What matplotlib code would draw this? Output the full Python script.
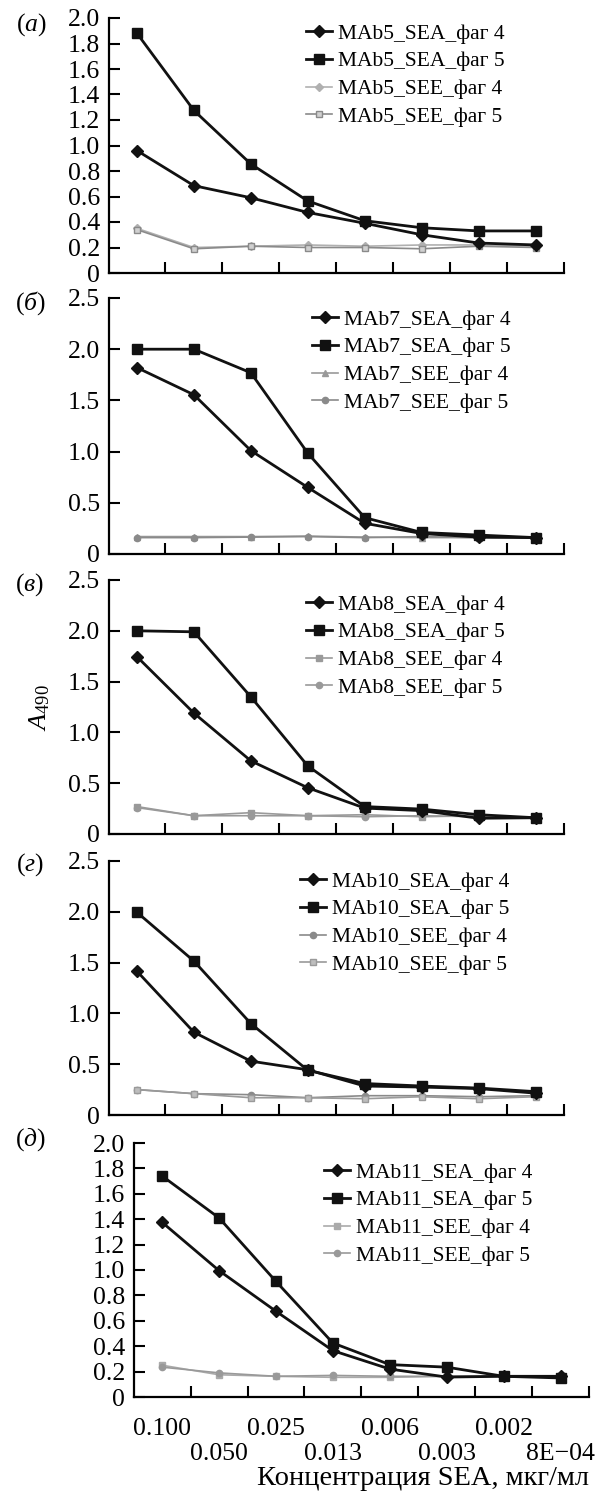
import matplotlib
matplotlib.use("Agg")
import matplotlib.pyplot as plt
from matplotlib.ticker import FixedLocator

plt.rcParams['font.family'] = ['Liberation Serif', 'DejaVu Serif']
plt.rcParams['mathtext.fontset'] = 'custom'
plt.rcParams['mathtext.rm'] = 'Liberation Serif'
plt.rcParams['mathtext.it'] = 'Liberation Serif:italic'

# ---------------- data ----------------
conc_labels = ['0.100', '0.050', '0.025', '0.013', '0.006', '0.003', '0.002', '8E\u221204']

mab5_sea4 = [0.96, 0.685, 0.59, 0.475, 0.39, 0.30, 0.235, 0.22]
mab5_sea5 = [1.88, 1.275, 0.855, 0.565, 0.41, 0.355, 0.33, 0.33]
mab5_see4 = [0.35, 0.20, 0.21, 0.22, 0.21, 0.22, 0.22, 0.21]
mab5_see5 = [0.34, 0.19, 0.21, 0.20, 0.20, 0.19, 0.21, 0.20]

mab7_sea4 = [1.82, 1.555, 1.01, 0.65, 0.30, 0.20, 0.165, 0.16]
mab7_sea5 = [2.0, 2.0, 1.77, 0.985, 0.355, 0.21, 0.185, 0.16]
mab7_see4 = [0.17, 0.17, 0.17, 0.175, 0.165, 0.16, 0.16, 0.16]
mab7_see5 = [0.16, 0.16, 0.165, 0.17, 0.16, 0.17, 0.16, 0.16]

mab8_sea4 = [1.745, 1.19, 0.72, 0.455, 0.255, 0.23, 0.155, 0.16]
mab8_sea5 = [2.0, 1.99, 1.35, 0.67, 0.27, 0.245, 0.19, 0.16]
mab8_see4 = [0.27, 0.18, 0.21, 0.18, 0.19, 0.17, 0.18, 0.16]
mab8_see5 = [0.26, 0.18, 0.18, 0.18, 0.17, 0.18, 0.17, 0.16]

mab10_sea4 = [1.415, 0.815, 0.53, 0.445, 0.285, 0.275, 0.26, 0.215]
mab10_sea5 = [1.995, 1.515, 0.90, 0.44, 0.31, 0.285, 0.265, 0.23]
mab10_see4 = [0.25, 0.21, 0.20, 0.17, 0.19, 0.19, 0.18, 0.19]
mab10_see5 = [0.25, 0.21, 0.17, 0.17, 0.16, 0.18, 0.16, 0.18]

mab11_sea4 = [1.375, 0.995, 0.675, 0.365, 0.22, 0.157, 0.163, 0.163]
mab11_sea5 = [1.74, 1.41, 0.91, 0.425, 0.255, 0.235, 0.163, 0.15]
mab11_see4 = [0.25, 0.175, 0.163, 0.155, 0.155, 0.163, 0.163, 0.155]
mab11_see5 = [0.235, 0.19, 0.163, 0.17, 0.163, 0.163, 0.163, 0.163]

panels = [
    dict(mab='5', tag='\u0430', sea4=mab5_sea4, sea5=mab5_sea5, see4=mab5_see4, see5=mab5_see5,
         ymax=2.0, ystep=0.2, m4='D', m5='s', c4='#b0b0b0', c5='#8a8a8a', f5='#d0d0d0'),
    dict(mab='7', tag='\u0431', sea4=mab7_sea4, sea5=mab7_sea5, see4=mab7_see4, see5=mab7_see5,
         ymax=2.5, ystep=0.5, m4='^', m5='o', c4='#999999', c5='#8a8a8a', f5='#8a8a8a'),
    dict(mab='8', tag='\u0432', sea4=mab8_sea4, sea5=mab8_sea5, see4=mab8_see4, see5=mab8_see5,
         ymax=2.5, ystep=0.5, m4='s', m5='o', c4='#9a9a9a', c5='#999999', f5='#999999'),
    dict(mab='10', tag='\u0433', sea4=mab10_sea4, sea5=mab10_sea5, see4=mab10_see4, see5=mab10_see5,
         ymax=2.5, ystep=0.5, m4='o', m5='s', c4='#8a8a8a', c5='#9a9a9a', f5='#bdbdbd'),
    dict(mab='11', tag='\u0434', sea4=mab11_sea4, sea5=mab11_sea5, see4=mab11_see4, see5=mab11_see5,
         ymax=2.0, ystep=0.2, m4='s', m5='o', c4='#aaaaaa', c5='#999999', f5='#999999'),
]

# ---------------- layout (pixels) ----------------
W, H = 604, 1493
rects = [(108.5, 564, 18, 273), (108.5, 564, 298, 554), (108.5, 564, 580, 834),
         (108.5, 564, 861, 1115), (133.7, 589, 1143, 1397)]
leg_pos = [(306, 32), (312, 318), (306, 603), (300, 880), (324, 1171)]
tag_pos = [(31, 25), (30, 303), (30, 585), (30, 865), (30, 1140)]

fig = plt.figure(figsize=(W / 100, H / 100), dpi=100)
x = list(range(len(conc_labels)))
TICKFS = 18.5
LEGFS = 15.5

for i, p in enumerate(panels):
    x0, x1, yt, yb = rects[i]
    ax = fig.add_axes([x0 / W, 1 - yb / H, (x1 - x0) / W, (yb - yt) / H])
    ax.plot(x, p['sea4'], color='#111111', lw=2.0, marker='D', ms=6, label=f"MAb{p['mab']}_SEA_\u0444\u0430\u0433 4", zorder=4)
    ax.plot(x, p['sea5'], color='#111111', lw=2.0, marker='s', ms=7, label=f"MAb{p['mab']}_SEA_\u0444\u0430\u0433 5", zorder=4)
    ax.plot(x, p['see4'], color=p['c4'], lw=1.2, marker=p['m4'], ms=4.5, label=f"MAb{p['mab']}_SEE_\u0444\u0430\u0433 4", zorder=3)
    ax.plot(x, p['see5'], color=p['c5'], lw=1.2, marker=p['m5'], ms=4.5, mfc=p['f5'],
            label=f"MAb{p['mab']}_SEE_\u0444\u0430\u0433 5", zorder=3)

    ax.set_xlim(-0.5, len(x) - 0.5)
    ax.set_ylim(0, p['ymax'])
    nt = int(round(p['ymax'] / p['ystep']))
    yticks = [k * p['ystep'] for k in range(nt + 1)]
    ax.set_yticks(yticks)
    ax.set_yticklabels(['0'] + [f"{v:.1f}" for v in yticks[1:]], fontsize=TICKFS)
    ax.tick_params(axis='y', direction='in', length=8, width=1.5, pad=6)

    ax.xaxis.set_minor_locator(FixedLocator([k + 0.5 for k in x]))
    ax.tick_params(axis='x', which='minor', direction='in', length=8, width=1.5)
    if i == len(panels) - 1:
        even = [k for k in x if k % 2 == 0]
        odd = [k for k in x if k % 2 == 1]
        ax.set_xticks(even)
        ax.set_xticklabels([conc_labels[k] for k in even], fontsize=TICKFS)
        ax.tick_params(axis='x', which='major', length=0, pad=15)
        sec = ax.secondary_xaxis('bottom')
        sec.set_xticks(odd)
        sec.set_xticklabels([conc_labels[k] for k in odd], fontsize=TICKFS)
        sec.tick_params(axis='x', which='both', length=0, pad=33)
        sec.spines['bottom'].set_visible(False)
        sec.set_xlabel('\u041a\u043e\u043d\u0446\u0435\u043d\u0442\u0440\u0430\u0446\u0438\u044f SEA, \u043c\u043a\u0433/\u043c\u043b',
                       fontsize=20.5, loc='right', labelpad=1)
    else:
        ax.set_xticks(x)
        ax.set_xticklabels([])
        ax.tick_params(axis='x', which='major', length=0)

    for s in ['top', 'right']:
        ax.spines[s].set_visible(False)
    for s in ['left', 'bottom']:
        ax.spines[s].set_linewidth(1.6)

    lx, ly = leg_pos[i]
    ax.legend(loc='upper left', bbox_to_anchor=(lx / W, 1 - (ly - 8.5) / H),
              bbox_transform=fig.transFigure, frameon=False, fontsize=LEGFS,
              borderpad=0, borderaxespad=0, handlelength=1.2, handletextpad=0.3,
              labelspacing=0.36)

    tx, ty = tag_pos[i]
    fig.text(tx / W, 1 - ty / H, f"($\\mathit{{{p['tag']}}}$)", fontsize=TICKFS,
             ha='center', va='center')

fig.text(40 / W, 1 - 708 / H, r'$\mathit{A}_{\mathrm{490}}$', fontsize=19,
         rotation=90, ha='center', va='center')

fig.savefig('out.png', dpi=100)
